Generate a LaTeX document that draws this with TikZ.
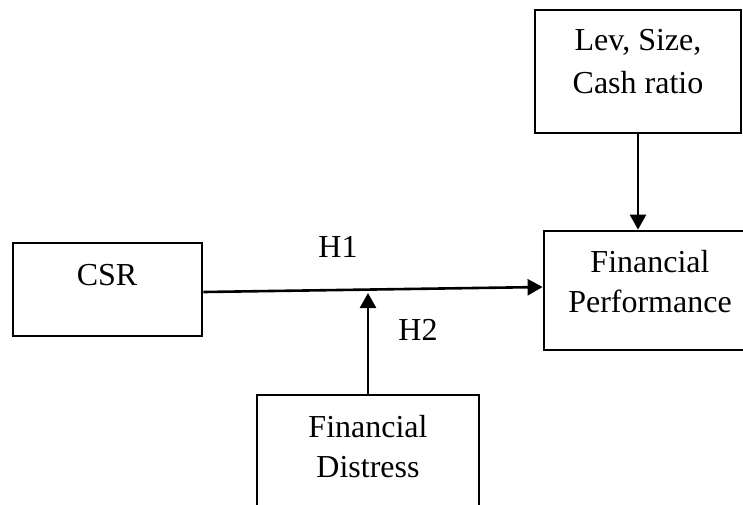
\documentclass[tikz,border=0pt]{standalone}
\usepackage{fontspec}
\setmainfont{Liberation Serif}
\usetikzlibrary{arrows.meta}
\begin{document}
\begin{tikzpicture}[x=1pt,y=-1pt,
  box/.style={draw,line width=2.8pt,rectangle,inner sep=0pt},
  txt/.style={anchor=base,inner sep=0pt,font=\fontsize{32}{42}\selectfont},
  conn/.style={line width=2.6pt,-{Triangle[length=15pt,width=16pt]}}]
\useasboundingbox (0,0) rectangle (743,504);
\begin{scope}
\clip (0,0) rectangle (743,504);
\node[box,minimum width=189pt,minimum height=93pt] (csr) at (107.5,289.5) {};
\node[box,minimum width=206pt,minimum height=123pt] (lev) at (638,71.5) {};
\node[box,minimum width=201pt,minimum height=119pt] (fp) at (644.5,290.5) {};
\node[box,minimum width=222pt,minimum height=130pt] (fd) at (368,460) {};
\end{scope}
\node[txt] (t1) at (107,285) {CSR};
\node[txt] (t2) at (638,50) {Lev, Size,};
\node[txt] (t3) at (638,93) {Cash ratio};
\node[txt] (t4) at (650,272) {Financial};
\node[txt] (t5) at (650,312) {Performance};
\node[txt] (t6) at (368,437) {Financial};
\node[txt] (t7) at (368,477) {Distress};
\node[txt] (h1) at (338,257) {H1};
\node[txt] (h2) at (418,340) {H2};
\coordinate (m) at (368,293);
\draw[conn] ([yshift=-2.5pt]csr.east) -- ([yshift=3.5pt]fp.west);
\draw[conn] (fd.north) -- (m);
\draw[conn] (lev.south) -- (lev.south |- fp.north);
\end{tikzpicture}
\end{document}
